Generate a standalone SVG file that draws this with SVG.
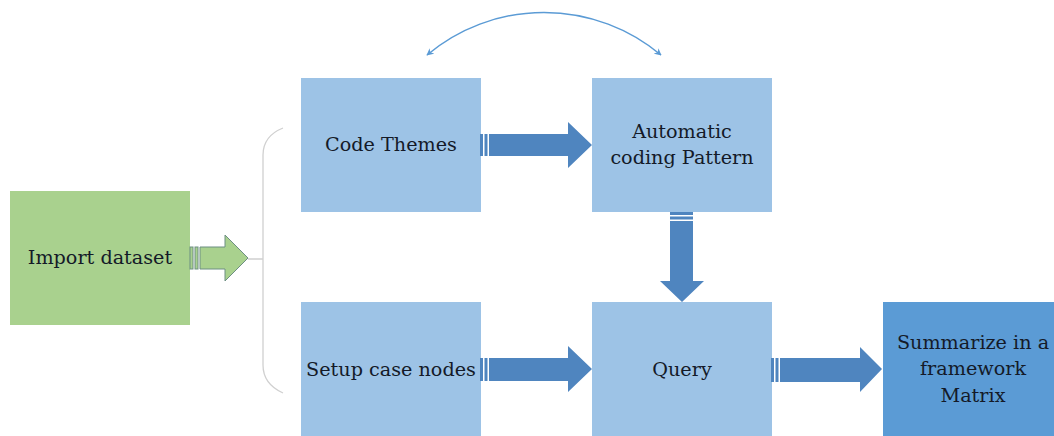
<svg xmlns="http://www.w3.org/2000/svg" width="1054" height="436" viewBox="0 0 1054 436">
<defs>
<style>
.box{fill:#9dc3e6;}
.dark{fill:#5b9bd5;}
.green{fill:#a9d18e;}
.lbl{font-family:"DejaVu Serif","Liberation Serif",serif;font-size:19.2px;fill:#141a28;text-anchor:middle;}
.barrow{fill:#4f85bf;}
.garrow{fill:#a9d18e;stroke:#6d8f82;stroke-width:1;}
.brace{fill:none;stroke:#d0d0d0;stroke-width:1.3;}
.curve{fill:none;stroke:#5b9bd5;stroke-width:1.5;}
</style>
<marker id="ah" viewBox="0 0 10 10" refX="9" refY="5" markerWidth="7" markerHeight="7" orient="auto-start-reverse" markerUnits="userSpaceOnUse">
<path d="M0,0 L10,5 L0,10 L3,5 Z" fill="#5b9bd5"/>
</marker>
</defs>
<rect width="1054" height="436" fill="#ffffff"/>

<g id="node-import">
<rect class="green" x="10" y="191" width="180" height="134"/>
<text class="lbl" x="100" y="264">Import dataset</text>
</g>
<g id="node-code-themes">
<rect class="box" x="301" y="78" width="180" height="134"/>
<text class="lbl" x="391" y="151">Code Themes</text>
</g>
<g id="node-automatic">
<rect class="box" x="592" y="78" width="180" height="134"/>
<text class="lbl" x="682" y="138">Automatic</text>
<text class="lbl" x="682" y="164">coding Pattern</text>
</g>
<g id="node-setup">
<rect class="box" x="301" y="302" width="180" height="134"/>
<text class="lbl" x="391" y="376">Setup case nodes</text>
</g>
<g id="node-query">
<rect class="box" x="592" y="302" width="180" height="134"/>
<text class="lbl" x="682" y="376">Query</text>
</g>
<g id="node-summarize">
<rect class="dark" x="883" y="302" width="180" height="134"/>
<text class="lbl" x="973" y="349">Summarize in a</text>
<text class="lbl" x="973" y="375">framework</text>
<text class="lbl" x="973" y="402">Matrix</text>
</g>

<g id="connectors">
<!-- brace -->
<path class="brace" d="M248,259 H263 M283,128 Q263,136 263,155 V365 Q263,384 283,393"/>
<!-- green striped arrow -->
<g class="garrow">
<rect x="190" y="247" width="3" height="22"/>
<rect x="195" y="247" width="3" height="22"/>
<path d="M200,247 H225 V235 L248,258 L225,281 V269 H200 Z"/>
</g>
<!-- Code Themes -> Automatic -->
<g class="barrow">
<rect x="480" y="134" width="3" height="22"/>
<rect x="484.5" y="134" width="3" height="22"/>
<path d="M489,134 H568 V122 L592,145 L568,168 V156 H489 Z"/>
</g>
<!-- Automatic -> Query -->
<g class="barrow">
<rect x="670" y="212" width="23" height="3"/>
<rect x="670" y="216.5" width="23" height="3"/>
<path d="M670,221 V281 H660 L682,302 L704,281 H693 V221 Z"/>
</g>
<!-- Setup -> Query -->
<g class="barrow">
<rect x="480" y="358" width="3" height="23"/>
<rect x="484.5" y="358" width="3" height="23"/>
<path d="M489,358 H568 V346 L592,369 L568,392 V381 H489 Z"/>
</g>
<!-- Query -> Summarize -->
<g class="barrow">
<rect x="771" y="358" width="3" height="24"/>
<rect x="775.5" y="358" width="3" height="24"/>
<path d="M780,358 H860 V347 L882,369 L860,392 V382 H780 Z"/>
</g>
<!-- curved double arrow -->
<path class="curve" d="M427,55 A182,182 0 0 1 661,55" marker-start="url(#ah)" marker-end="url(#ah)"/>
</g>
</svg>
